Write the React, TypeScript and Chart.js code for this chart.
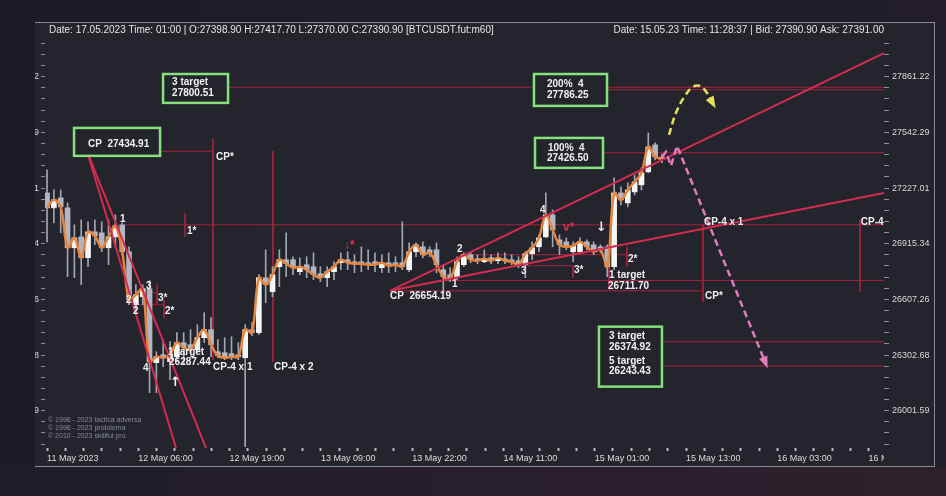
import React, { useEffect, useRef } from "react";
import { Chart, registerables } from "chart.js";

Chart.register(...registerables);

// ---- candle data (hourly bars, BTCUSDT) ----
const opens = [
  27199.6, 27115.7, 27171.6, 27115.7, 26892.7, 26953.5, 26837.4, 26981.5, 26975.9, 26892.7,
  26953.5, 27020.6, 26870.6, 26577.7, 26621.8, 26666.0, 26261.1, 26304.3, 26266.5, 26293.5,
  26370.0, 26359.1, 26331.8, 26397.4, 26441.1, 26320.9, 26315.4, 26309.9, 26304.3, 26288.1,
  26441.1, 26424.7, 26726.8, 26649.4, 26787.6, 26826.3, 26826.3, 26760.0, 26798.7, 26787.6,
  26748.9, 26726.8, 26760.0, 26809.7, 26826.3, 26815.3, 26815.3, 26809.7, 26815.3, 26782.1,
  26809.7, 26809.7, 26809.7, 26771.0, 26870.6, 26898.2, 26881.6, 26881.6, 26771.0, 26743.4,
  26726.8, 26798.7, 26854.0, 26831.8, 26815.3, 26837.4, 26820.8, 26831.8, 26826.3, 26820.8,
  26798.7, 26859.5, 26898.2, 26953.5, 27076.5, 26936.7, 26925.5, 26870.6, 26870.6, 26925.5,
  26909.3, 26898.2, 26898.2, 26787.6, 27199.6, 27143.6, 27205.2, 27244.7, 27318.3, 27471.0,
  27398.9,
];
const highs = [
  27329.6, 27216.4, 27216.4, 27143.6, 27020.6, 27048.6, 27037.4, 27048.6, 27037.4, 27048.6,
  27076.5, 27031.8, 26898.2, 26688.1, 26688.1, 26710.2, 26320.9, 26386.4, 26375.5, 26424.7,
  26424.7, 26441.1, 26468.4, 26534.0, 26506.7, 26386.4, 26397.4, 26402.8, 26370.0, 26468.4,
  26479.3, 26743.4, 26881.6, 26787.6, 26881.6, 26975.9, 26842.9, 26837.4, 26842.9, 26865.0,
  26787.6, 26787.6, 26815.3, 26865.0, 26870.6, 26854.0, 26898.2, 26881.6, 26865.0, 26854.0,
  26865.0, 26842.9, 27037.4, 26919.9, 26919.9, 26925.5, 26898.2, 26919.9, 26798.7, 26782.1,
  26842.9, 26865.0, 26870.6, 26854.0, 26881.6, 26854.0, 26865.0, 26865.0, 26854.0, 26842.9,
  26870.6, 26925.5, 26964.7, 27199.6, 27104.5, 26964.7, 26947.9, 26925.5, 26947.9, 26936.7,
  26925.5, 26909.3, 26909.3, 27284.3, 27233.4, 27256.0, 27301.3, 27340.9, 27538.9, 27482.3,
  27417.7,
];
const lows = [
  26925.5, 27031.8, 26975.9, 26732.3, 26726.8, 26688.1, 26787.6, 26909.3, 26870.6, 26798.7,
  26898.2, 26854.0, 26577.7, 26534.0, 26577.7, 26099.0, 26099.0, 26239.5, 26169.2, 26266.5,
  26250.3, 26315.4, 26315.4, 26370.0, 26293.5, 26288.1, 26277.3, 26277.3, 26277.3, 25809.4,
  26408.3, 26413.8, 26588.7, 26621.8, 26677.1, 26732.3, 26743.4, 26743.4, 26726.8, 26715.7,
  26704.7, 26677.1, 26715.7, 26771.0, 26771.0, 26754.4, 26760.0, 26771.0, 26760.0, 26754.4,
  26754.4, 26760.0, 26771.0, 26760.0, 26842.9, 26837.4, 26842.9, 26754.4, 26643.9, 26704.7,
  26715.7, 26787.6, 26809.7, 26804.2, 26809.7, 26804.2, 26804.2, 26804.2, 26798.7, 26782.1,
  26726.8, 26826.3, 26870.6, 26947.9, 26898.2, 26854.0, 26881.6, 26815.3, 26859.5, 26881.6,
  26854.0, 26865.0, 26732.3, 26771.0, 27132.5, 27121.3, 27188.4, 27216.4, 27312.6, 27386.1,
  27370.0,
];
const closes = [
  27115.7, 27160.4, 27121.3, 26892.7, 26947.9, 26837.4, 26981.5, 26959.1, 26892.7, 26953.5,
  27015.0, 26870.6, 26605.1, 26632.8, 26666.0, 26266.5, 26293.5, 26288.1, 26304.3, 26370.0,
  26342.7, 26331.8, 26397.4, 26441.1, 26359.1, 26298.9, 26288.1, 26293.5, 26293.5, 26441.1,
  26424.7, 26726.8, 26688.1, 26743.4, 26826.3, 26804.2, 26782.1, 26787.6, 26771.0, 26743.4,
  26726.8, 26760.0, 26787.6, 26826.3, 26809.7, 26804.2, 26804.2, 26798.7, 26798.7, 26809.7,
  26793.1, 26798.7, 26787.6, 26870.6, 26909.3, 26854.0, 26865.0, 26798.7, 26732.3, 26721.3,
  26815.3, 26854.0, 26826.3, 26820.8, 26831.8, 26820.8, 26837.4, 26820.8, 26815.3, 26798.7,
  26859.5, 26892.7, 26947.9, 27076.5, 26992.6, 26909.3, 26898.2, 26903.7, 26925.5, 26898.2,
  26870.6, 26881.6, 26787.6, 27199.6, 27160.4, 27216.4, 27261.7, 27312.6, 27459.7, 27403.1,
  27390.9,
];

// ---- axes ----
const xTickStep = 2.672; // minor tick spacing in bars (5 per labelled tick)
const xTickLabels = [
  "11 May 2023", "12 May 06:00", "12 May 19:00", "13 May 09:00", "13 May 22:00",
  "14 May 11:00", "15 May 01:00", "15 May 13:00", "16 May 03:00", "16 May 16:00",
];
const yMajorTicks = [26001.59, 26302.68, 26607.26, 26915.34, 27227.01, 27542.29, 27861.22];
const X_MIN = -0.3;
const X_MAX = 122.5;
const Y_MIN = 25801.8;
const Y_MAX = 28085.1;

// ---- drawing annotations (bar index, price) ----
const trendLines = [
  [5.85, 27434.91, 18.88, 25801.8],
  [5.85, 27434.91, 23.27, 25801.8],
  [50.2, 26654.19, 122.5, 27997.5],
  [50.2, 26654.19, 122.5, 27199.6],
];
const levelLines = [
  [16.54, 27434.91, 24.29, 27434.91],
  [24.29, 27504.9, 24.29, 26277.3],
  [33.07, 27434.91, 33.07, 26266.5],
  [11.4, 27020.6, 122.5, 27020.6],
  [20.2, 27087.6, 20.2, 26953.5],
  [26.49, 27800.51, 122.5, 27800.51],
  [81.96, 27786.25, 122.5, 27786.25],
  [81.37, 27426.5, 122.5, 27426.5],
  [50.2, 26654.19, 96.0, 26654.19],
  [96.0, 27020.6, 96.0, 26594.1],
  [118.98, 27048.6, 118.98, 26649.4],
  [58.0, 26711.7, 122.5, 26711.7],
  [60.44, 26854.0, 84.88, 26854.0],
  [84.88, 26898.2, 84.88, 26787.6],
  [69.66, 26793.1, 76.98, 26793.1],
  [76.98, 26793.1, 76.98, 26726.8],
  [82.25, 26787.6, 82.25, 26660.5],
  [15.07, 26643.9, 16.1, 26643.9],
  [16.1, 26688.1, 16.1, 26577.7],
  [13.17, 26577.7, 17.12, 26577.7],
  [17.12, 26605.1, 17.12, 26506.7],
  [90.0, 26374.92, 122.5, 26374.92],
  [90.0, 26243.43, 122.5, 26243.43],
];
const yellowPath = [
  [91.03, 27527.6], [92.05, 27653.4], [93.37, 27750.7], [94.54, 27802.2],
  [95.57, 27807.9], [96.59, 27767.9], [97.33, 27716.4],
];
const pinkPath = [
  [90.0, 27403.1], [90.59, 27431.4], [91.32, 27352.2], [92.2, 27465.4], [105.08, 26266.5],
];
const targetBoxes = [
  [16.98, 27876.7, 26.49, 27710.7],
  [3.95, 27567.6, 16.54, 27408.8],
  [71.27, 27876.7, 81.96, 27693.5],
  [71.42, 27510.6, 81.37, 27340.9],
  [80.78, 26457.5, 90.0, 26131.4],
];
const noteTexts: [string, number, number, string][] = [
  ["3 target", 18.3, 27829.1, "w"],
  ["27800.51", 18.3, 27767.9, "w"],
  ["CP  27434.91", 6.0, 27476.7, "w"],
  ["CP*", 24.73, 27403.1, "w"],
  ["200%  4", 73.17, 27819.4, "w"],
  ["27786.25", 73.17, 27756.5, "w"],
  ["100%  4", 73.32, 27454.0, "w"],
  ["27426.50", 73.17, 27394.6, "w"],
  ["1", 10.68, 27054.2, "w"],
  ["1*", 20.49, 26987.0, "w"],
  ["2", 11.56, 26605.1, "w"],
  ["2", 12.59, 26539.5, "w"],
  ["3", 14.49, 26677.1, "w"],
  ["3*", 16.24, 26616.0, "w"],
  ["2*", 17.27, 26539.5, "w"],
  ["4", 14.05, 26228.6, "w"],
  ["1 target", 17.71, 26315.4, "w"],
  ["26287.44", 17.85, 26261.1, "w"],
  ["↑", 18.0, 26153.0, "a"],
  ["CP-4 x 1", 24.29, 26234.1, "w"],
  ["CP-4 x 2", 33.22, 26234.1, "w"],
  ["↓*", 43.47, 26903.7, "r"],
  ["CP  26654.19", 50.2, 26621.8, "w"],
  ["1", 59.27, 26688.1, "w"],
  ["2", 60.0, 26887.1, "w"],
  ["3", 69.37, 26760.0, "w"],
  ["3*", 77.13, 26765.5, "w"],
  ["4", 72.15, 27104.5, "w"],
  ["v*", 75.52, 27003.8, "r"],
  ["↓", 80.35, 27003.8, "a"],
  ["2*", 85.03, 26826.3, "w"],
  ["1 target", 82.25, 26737.8, "w"],
  ["26711.70", 82.1, 26677.1, "w"],
  ["CP-4 x 1", 96.15, 27037.4, "w"],
  ["CP*", 96.3, 26621.8, "w"],
  ["CP-4", 119.1, 27037.4, "w"],
  ["3 target", 82.25, 26402.8, "w"],
  ["26374.92", 82.25, 26342.7, "w"],
  ["5 target", 82.25, 26266.5, "w"],
  ["26243.43", 82.25, 26212.4, "w"],
];
const headerLeft =
  "Date: 17.05.2023 Time: 01:00 | O:27398.90 H:27417.70 L:27370.00 C:27390.90 [BTCUSDT.fut:m60]";
const headerRight = "Date: 15.05.23 Time: 11:28:37 | Bid: 27390.90 Ask: 27391.00";
const watermarks = ["© 1996 - 2023 tactica adversa", "© 1996 - 2023 protolema", "© 2010 - 2023 skillful pro"];

const PANEL = "#23242c";
const SANS = "'Liberation Sans', 'DejaVu Sans', sans-serif";

function buildYTicks() {
  const out: number[] = [];
  const first = yMajorTicks[0];
  const r0 = yMajorTicks[0] / yMajorTicks[1];
  for (let k = 3; k >= 1; k--) out.push(first * Math.pow(r0, k / 5));
  for (let i = 0; i < yMajorTicks.length - 1; i++) {
    const a = yMajorTicks[i];
    const b = yMajorTicks[i + 1];
    for (let k = 0; k < 5; k++) out.push(a * Math.pow(b / a, k / 5));
  }
  const last = yMajorTicks[yMajorTicks.length - 1];
  const r1 = last / yMajorTicks[yMajorTicks.length - 2];
  out.push(last);
  for (let k = 1; k <= 3; k++) out.push(last * Math.pow(r1, k / 5));
  return out;
}

function isMajor(v: number) {
  return yMajorTicks.some((m) => Math.abs(m - v) < 0.01);
}

function arrowHead(ctx: CanvasRenderingContext2D, x0: number, y0: number, x1: number, y1: number, color: string, len: number, wid: number) {
  const a = Math.atan2(y1 - y0, x1 - x0);
  ctx.save();
  ctx.fillStyle = color;
  ctx.translate(x1, y1);
  ctx.rotate(a);
  ctx.beginPath();
  ctx.moveTo(len * 0.6, 0);
  ctx.lineTo(-len * 0.4, -wid / 2);
  ctx.lineTo(-len * 0.4, wid / 2);
  ctx.closePath();
  ctx.fill();
  ctx.restore();
}

const overlayPlugin = {
  id: "overlay",
  afterDatasetsDraw(chart: any) {
    const { ctx } = chart;
    const xs = chart.scales.x;
    const ys = chart.scales.y;
    const px = (v: number) => xs.getPixelForValue(v);
    const py = (v: number) => ys.getPixelForValue(v);
    ctx.save();
    const yl = yellowPath.length;
    arrowHead(ctx, px(yellowPath[yl - 2][0]), py(yellowPath[yl - 2][1]), px(yellowPath[yl - 1][0]), py(yellowPath[yl - 1][1]), "#e6df5c", 12, 9);
    const pl = pinkPath.length;
    arrowHead(ctx, px(pinkPath[pl - 2][0]), py(pinkPath[pl - 2][1]), px(pinkPath[pl - 1][0]), py(pinkPath[pl - 1][1]), "#e07cbc", 12, 9);
    targetBoxes.forEach((b) => {
      const x1 = px(b[0]);
      const y1 = py(b[1]);
      const x2 = px(b[2]);
      const y2 = py(b[3]);
      ctx.fillStyle = PANEL;
      ctx.fillRect(x1, y1, x2 - x1, y2 - y1);
      ctx.strokeStyle = "#86e07e";
      ctx.lineWidth = 2.5;
      ctx.strokeRect(x1, y1, x2 - x1, y2 - y1);
    });
    ctx.textBaseline = "middle";
    noteTexts.forEach(([t, x, p, s]) => {
      if (s === "r") {
        ctx.font = `bold 12px ${SANS}`;
        ctx.fillStyle = "#d9304f";
      } else if (s === "a") {
        ctx.font = `bold 13px 'DejaVu Sans', sans-serif`;
        ctx.fillStyle = "#f0f0f0";
      } else {
        ctx.font = `bold 10px ${SANS}`;
        ctx.fillStyle = "#f0f0f2";
      }
      ctx.textAlign = "left";
      ctx.fillText(t, px(x), py(p));
    });
    ctx.restore();
  },
  afterDraw(chart: any) {
    const { ctx, chartArea, width, height } = chart;
    ctx.save();
    ctx.fillStyle = PANEL;
    ctx.fillRect(chartArea.right, chartArea.bottom + 1, width - chartArea.right, height - chartArea.bottom - 1);
    ctx.fillStyle = "#e4e4e6";
    ctx.font = `10px ${SANS}`;
    ctx.textBaseline = "middle";
    ctx.textAlign = "left";
    ctx.fillText(headerLeft, chartArea.left + 4, 7);
    ctx.textAlign = "right";
    ctx.fillText(headerRight, chartArea.right, 7);
    ctx.fillStyle = "#868893";
    ctx.font = `7px ${SANS}`;
    ctx.textAlign = "left";
    watermarks.forEach((w, i) => ctx.fillText(w, chartArea.left + 3, chartArea.bottom - 28 + i * 8));
    ctx.restore();
  },
};

export default function App() {
  const ref = useRef<HTMLCanvasElement>(null);
  useEffect(() => {
    document.body.style.margin = "0";
    const canvas = ref.current;
    if (!canvas) return;
    const idx = closes.map((_, i) => i);
    const bullish = closes.map((c, i) => c >= opens[i]);
    const datasets: any[] = [];
    levelLines.forEach((s) =>
      datasets.push({
        type: "line",
        data: [{ x: s[0], y: s[1] }, { x: s[2], y: s[3] }],
        borderColor: "#a8233f",
        borderWidth: 1,
        pointRadius: 0,
        order: 10,
      })
    );
    datasets.push({
      type: "bar",
      data: idx.map((i) => ({ x: i, y: [lows[i], highs[i]] })),
      backgroundColor: "#a2a6b0",
      barThickness: 1,
      grouped: false,
      order: 8,
    });
    datasets.push({
      type: "bar",
      data: idx.map((i) => ({ x: i, y: [Math.min(opens[i], closes[i]), Math.max(opens[i], closes[i])] })),
      backgroundColor: bullish.map((b) => (b ? "#f5f5f5" : "#b3b6c0")),
      barThickness: 5,
      grouped: false,
      minBarLength: 2,
      order: 7,
    });
    datasets.push({
      type: "line",
      data: idx.map((i) => ({ x: i, y: closes[i] })),
      borderColor: "#e8853c",
      borderWidth: 2.5,
      tension: 0.35,
      pointRadius: 0,
      order: 5,
    });
    trendLines.forEach((s) =>
      datasets.push({
        type: "line",
        data: [{ x: s[0], y: s[1] }, { x: s[2], y: s[3] }],
        borderColor: "#d42b50",
        borderWidth: 2,
        pointRadius: 0,
        order: 3,
      })
    );
    datasets.push({
      type: "line",
      data: yellowPath.map((p) => ({ x: p[0], y: p[1] })),
      borderColor: "#e6df5c",
      borderWidth: 2.5,
      borderDash: [7, 4],
      tension: 0.4,
      pointRadius: 0,
      order: 2,
    });
    datasets.push({
      type: "line",
      data: pinkPath.map((p) => ({ x: p[0], y: p[1] })),
      borderColor: "#e07cbc",
      borderWidth: 2.5,
      borderDash: [7, 4],
      tension: 0,
      pointRadius: 0,
      order: 2,
    });

    const yTicks = buildYTicks();
    const yScale = (pos: string, w: number, tl: number, pad: number) => ({
      type: "logarithmic",
      position: pos,
      min: Y_MIN,
      max: Y_MAX,
      afterBuildTicks: (s: any) => {
        s.ticks = yTicks.map((v) => ({ value: v }));
      },
      afterFit: (s: any) => {
        s.width = w;
        s.paddingTop = 0;
        s.paddingBottom = 0;
      },
      grid: { drawOnChartArea: false, drawTicks: true, tickLength: tl, tickColor: "#8e919b", tickWidth: 1 },
      border: { display: false },
      ticks: {
        autoSkip: false,
        padding: pad,
        color: "#d8d8dc",
        font: { family: SANS, size: 9 },
        callback: (v: number) => (isMajor(v) ? v.toFixed(2) : ""),
      },
    });

    const chart = new Chart(canvas, {
      type: "bar",
      data: { datasets },
      options: {
        responsive: false,
        animation: false,
        events: [],
        layout: { padding: { top: 15, left: 0, right: 0, bottom: 0 } },
        plugins: { legend: { display: false }, tooltip: { enabled: false } },
        scales: {
          x: {
            type: "linear",
            min: X_MIN,
            max: X_MAX,
            offset: false,
            afterBuildTicks: (s: any) => {
              const t: any[] = [];
              for (let k = 0; k * xTickStep <= X_MAX; k++) t.push({ value: k * xTickStep });
              s.ticks = t;
            },
            afterFit: (s: any) => {
              s.height = 18;
              s.paddingLeft = 0;
              s.paddingRight = 0;
            },
            grid: { drawOnChartArea: false, drawTicks: true, tickLength: 3, tickColor: "#b8bac2", tickWidth: 2, offset: false },
            border: { display: false },
            ticks: {
              autoSkip: false,
              maxRotation: 0,
              minRotation: 0,
              align: "start",
              padding: 2,
              color: "#dcdce0",
              font: { family: SANS, size: 9 },
              callback: (_v: number, i: number) => (i % 5 === 0 ? xTickLabels[i / 5] || "" : ""),
            },
          },
          y: yScale("right", 50, 5, 3) as any,
          yLeft: yScale("left", 10, 4, 2) as any,
        },
      } as any,
      plugins: [overlayPlugin],
    });
    return () => chart.destroy();
  }, []);

  return (
    <div
      style={{
        position: "fixed",
        left: 0,
        top: 0,
        width: 946,
        height: 496,
        overflow: "hidden",
        background: "linear-gradient(90deg, #1b1c25 0%, #1e1d28 60%, #221d29 100%)",
      }}
    >
      <div
        style={{
          position: "absolute",
          left: 0,
          top: 467,
          width: 946,
          height: 29,
          background: "linear-gradient(90deg, #1f1d27 0%, #271f2b 50%, #2e202b 100%)",
        }}
      />
      <div
        style={{
          position: "absolute",
          left: 35,
          top: 22,
          width: 900,
          height: 445,
          boxSizing: "border-box",
          borderTop: "1px solid #8a8c95",
          borderRight: "1px solid #8a8c95",
          borderBottom: "1px solid #8a8c95",
          background: PANEL,
          overflow: "hidden",
        }}
      >
        <canvas ref={ref} width={899} height={443} style={{ display: "block", width: 899, height: 443 }} />
      </div>
    </div>
  );
}
